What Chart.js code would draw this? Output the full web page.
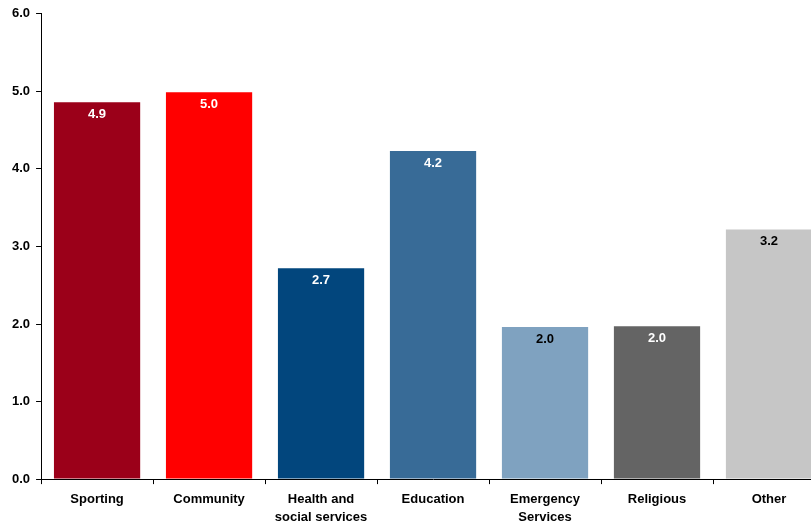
<!DOCTYPE html>
<html>
<head>
<meta charset="utf-8">
<script src="https://cdn.jsdelivr.net/npm/chart.js@4/dist/chart.umd.min.js"></script>
<style>
  html, body { margin: 0; padding: 0; background: #fff; overflow: hidden; }
  #wrap { width: 825px; height: 532px; }
</style>
</head>
<body>
<div id="wrap"><canvas id="chart-area"></canvas></div>
<script>
var categories = ["Sporting", "Community", ["Health and", "social services"], "Education", ["Emergency", "Services"], "Religious", "Other"];
var values = [4.86, 4.99, 2.72, 4.23, 1.96, 1.97, 3.22];
var barColors = ["#9B0019", "#FF0000", "#02467D", "#386B97", "#7FA2C0", "#646464", "#C6C6C6"];
var labelColors = ["#fff", "#fff", "#fff", "#fff", "#000", "#fff", "#000"];
var yTicks = [0, 1, 2, 3, 4, 5, 6];

// value labels just under the top of each bar
var barValues = {
    id: 'barValues',
    afterDatasetsDraw: function(chart) {
        var ctx = chart.ctx;
        var meta = chart.getDatasetMeta(0);
        ctx.save();
        ctx.font = 'bold 13px "Liberation Sans", Arial, sans-serif';
        ctx.textAlign = 'center';
        ctx.textBaseline = 'middle';
        meta.data.forEach(function(bar, i) {
            ctx.fillStyle = labelColors[i];
            ctx.fillText(values[i].toFixed(1), bar.x, bar.y + 12);
        });
        ctx.restore();
    }
};

var tickFont = {family: '"Liberation Sans", Arial, sans-serif', size: 13, weight: 'bold', lineHeight: 1.38};

var config = {type: 'bar',
    data: {
        labels: categories,
        datasets: [{
            data: values,
            backgroundColor: barColors,
            borderWidth: 0,
            borderSkipped: false,
            categoryPercentage: 1.0,
            barPercentage: 0.77
        }]
    },
    options: {
        responsive: true,
        maintainAspectRatio: false,
        animation: false,
        layout: {padding: {top: 5, left: 6, right: 0, bottom: 0}},
        plugins: {legend: {display: false}, tooltip: {enabled: false}},
        scales: {
            x: {
                grid: {display: true, drawOnChartArea: false, offset: true, tickLength: 5, color: '#000', tickColor: '#000'},
                border: {display: true, color: '#000', width: 1},
                ticks: {color: '#000', font: tickFont, padding: 6, maxRotation: 0, autoSkip: false}
            },
            y: {
                min: 0,
                max: 6,
                afterBuildTicks: function(axis) {
                    axis.ticks = yTicks.map(function(v) { return {value: v}; });
                },
                grid: {display: true, drawOnChartArea: false, tickLength: 5, color: '#000', tickColor: '#000'},
                border: {display: true, color: '#000', width: 1},
                ticks: {color: '#000', font: {family: tickFont.family, size: 13, weight: 'bold'}, padding: 6, callback: function(v) { return Number(v).toFixed(1); }}
            }
        }
    },
    plugins: [barValues]
};

window.onload = function() {
    var ctx = document.getElementById("chart-area").getContext("2d");
    window.myBar = new Chart(ctx, config);
};
</script>
</body>
</html>
